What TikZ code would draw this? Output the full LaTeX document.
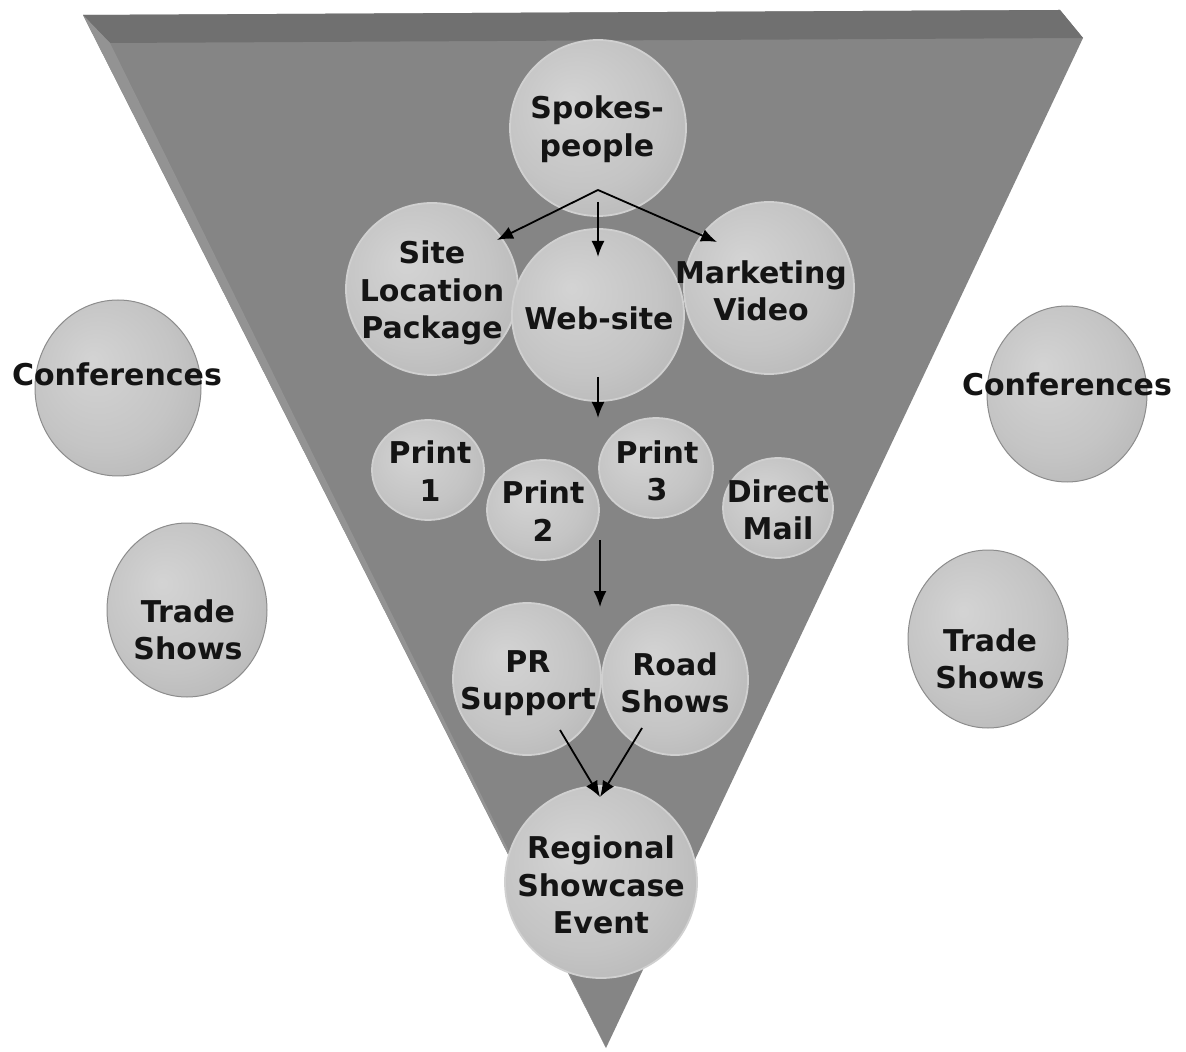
\documentclass[tikz,border=0pt]{standalone}
\usepackage{fontspec}
\setmainfont{DejaVu Sans}
\usetikzlibrary{shapes.geometric,arrows.meta,calc}
\definecolor{faceg}{HTML}{858585}
\definecolor{bandg}{HTML}{707070}
\definecolor{sideg}{HTML}{939393}
\definecolor{rimg}{HTML}{D0D0D0}
\definecolor{txtg}{HTML}{141414}
\pgfdeclareradialshading{softball}{\pgfpoint{-8bp}{8bp}}{%
  color(0bp)=(black!17);
  color(22bp)=(black!23);
  color(45bp)=(black!33);
  color(50bp)=(black!37)}
\tikzset{
  ball/.style={ellipse, inner sep=0pt, shading=softball, draw=rimg, line width=0.9pt},
  oball/.style={ellipse, inner sep=0pt, shading=softball, draw=black!45, line width=0.5pt},
  lbl/.style={inner sep=0pt, align=center, text=txtg,
    font=\fontsize{15}{18.8}\selectfont\bfseries},
  arr/.style={-{Latex[length=8pt,width=6.5pt]}, line width=0.9pt, black}
}
\begin{document}
\begin{tikzpicture}[x=0.5pt,y=-0.5pt]
\useasboundingbox (0,0) rectangle (1186,1052);
% inverted pyramid
\fill[faceg] (83,15) -- (1060,10) -- (1083,38) -- (606,1048) -- cycle;
\fill[bandg] (83,15) -- (1060,10) -- (1083,38) -- (110,43) -- cycle;
\fill[sideg] (83,15) -- (110,43) -- (606,1048) -- cycle;
% outside balls
\node[oball, minimum width=83pt, minimum height=88pt] (cl) at (118,388) {};
\node[oball, minimum width=80pt, minimum height=87pt] (tl) at (187,610) {};
\node[oball, minimum width=80pt, minimum height=88pt] (cr) at (1067,394) {};
\node[oball, minimum width=80pt, minimum height=89pt] (tr) at (988,639) {};
% inner balls
\node[ball, minimum width=88pt, minimum height=88pt] (sp) at (598,128) {};
\node[ball, minimum width=86pt, minimum height=86pt] (site) at (432,289) {};
\node[ball, minimum width=85pt, minimum height=86pt] (mv) at (769,288) {};
\node[ball, minimum width=86pt, minimum height=86pt] (ws) at (598,315) {};
\node[ball, minimum width=56pt, minimum height=50pt] (p1) at (428,470) {};
\node[ball, minimum width=57pt, minimum height=50pt] (p3) at (656,468) {};
\node[ball, minimum width=56pt, minimum height=50pt] (p2) at (543,510) {};
\node[ball, minimum width=55pt, minimum height=50pt] (dm) at (778,508) {};
\node[ball, minimum width=74pt, minimum height=76pt] (pr) at (527,679) {};
\node[ball, minimum width=73pt, minimum height=75pt] (rs) at (675,680) {};
\node[ball, minimum width=96pt, minimum height=96pt] (rse) at (601,882) {};
% labels
\node[lbl] (cl-t) at (117,374) {Conferences};
\node[lbl] (tl-t) at (188,630) {Trade\\Shows};
\node[lbl] (cr-t) at (1067,384) {Conferences};
\node[lbl] (tr-t) at (990,659) {Trade\\Shows};
\node[lbl] (sp-t) at (597,129) {Spokes-\\people};
\node[lbl] (site-t) at (432,293) {Site\\Location\\Package};
\node[lbl] (mv-t) at (761,291) {Marketing\\Video};
\node[lbl] (ws-t) at (599,318) {Web-site};
\node[lbl] (p1-t) at (430,471) {Print\\1};
\node[lbl] (p2-t) at (543,511) {Print\\2};
\node[lbl] (p3-t) at (657,471) {Print\\3};
\node[lbl] (dm-t) at (778,510) {Direct\\Mail};
\node[lbl] (pr-t) at (528,683) {PR\\Support};
\node[lbl] (rs-t) at (675,683) {Road\\Shows};
\node[lbl] (rse-t) at (601,885) {Regional\\Showcase\\Event};
% connectors
\coordinate (fork) at ($(sp.center)+(0,62)$);
\draw[arr] (fork) -- ($(site.center)+(65,-49)$);
\draw[arr] (fork) -- ($(mv.center)+(-52,-46)$);
\draw[arr] ($(sp.center)+(0,74)$) -- ($(ws.center)+(0,-58)$);
\draw[arr] ($(ws.center)+(0,62)$) -- ($(ws.center)+(0,103)$);
\draw[arr] ($(p2.center)+(57,30)$) -- ($(pr.center)+(73,-72)$);
\draw[arr] ($(pr.center)+(33,51)$) -- ($(rse.center)+(-1,-85)$);
\draw[arr] ($(rs.center)+(-33,48)$) -- ($(rse.center)+(-1,-85)$);
\end{tikzpicture}
\end{document}
